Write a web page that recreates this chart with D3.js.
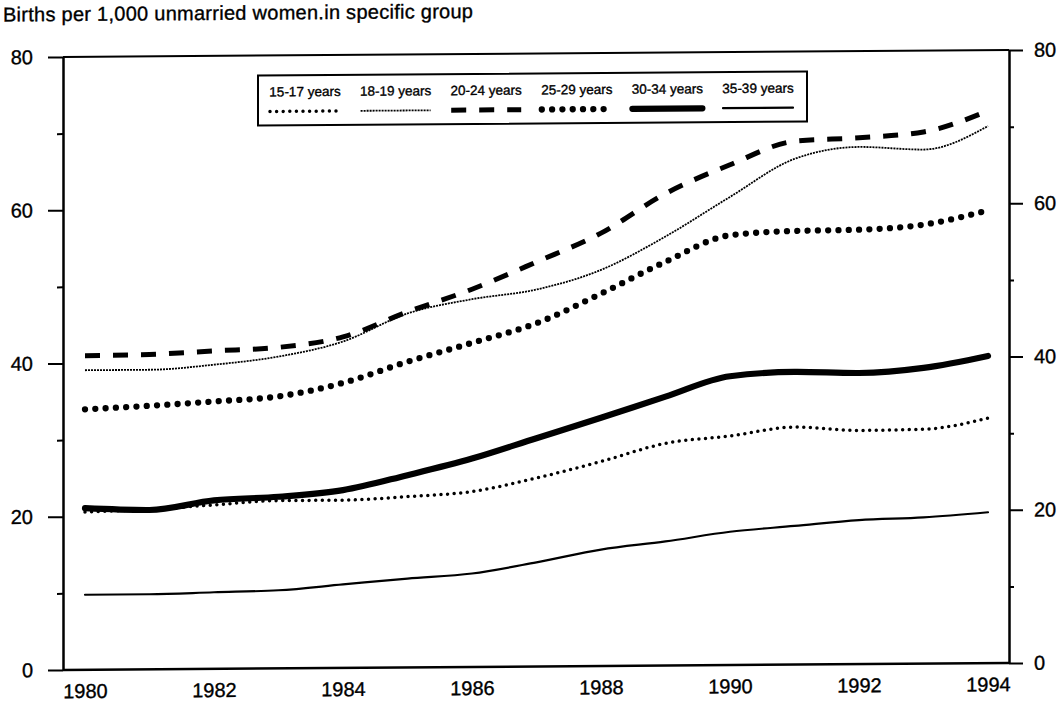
<!doctype html>
<html lang="en">
  <head>
    <meta charset="UTF-8" />
    <title>Births per 1,000 unmarried women</title>
    <script src="https://d3js.org/d3.v7.min.js"></script>
    <style>
      body {
        margin: 0;
        background: #fff;
      }
      svg text {
        font-family: "Liberation Sans", Arial, sans-serif;
        fill: #000;
        stroke: #000;
        stroke-width: 0.35px;
      }
      .axis path,
      .axis line {
        stroke: #000;
        stroke-width: 2px;
      }
    </style>
  </head>
  <body>
    <svg width="1059" height="704"></svg>

    <script>
      const years = [
        1980, 1981, 1982, 1983, 1984, 1985, 1986, 1987, 1988, 1989, 1990, 1991,
        1992, 1993, 1994,
      ];
      const age15to17 = [
        20.6, 20.9, 21.4, 21.9, 21.9, 22.3, 22.9, 24.6, 26.7, 29.0, 29.9, 31.0,
        30.5, 30.6, 32.0,
      ];
      const age18to19 = [
        39.1, 39.1, 39.7, 40.7, 42.6, 46.2, 48.0, 49.2, 51.7, 56.0, 61.1, 66.0,
        67.5, 67.1, 70.1,
      ];
      const age20to24 = [
        41.0, 41.1, 41.5, 41.9, 43.2, 46.4, 49.3, 52.8, 56.5, 61.6, 65.3, 68.3,
        68.7, 69.4, 72.1,
      ];
      const age25to29 = [
        34.0, 34.4, 34.9, 35.5, 37.2, 39.9, 42.3, 44.8, 48.6, 52.7, 56.1, 56.6,
        56.7, 57.3, 59.1,
      ];
      const age30to34 = [
        21.1, 20.8, 22.0, 22.4, 23.2, 25.1, 27.2, 29.8, 32.4, 35.1, 37.7, 38.2,
        38.0, 38.6, 40.1,
      ];
      const age35to39 = [
        9.8, 9.8, 10.0, 10.2, 10.9, 11.6, 12.2, 13.6, 15.2, 16.2, 17.4, 18.1,
        18.8, 19.1, 19.7,
      ];
      const seriesNames = [
        "15-17 years",
        "18-19 years",
        "20-24 years",
        "25-29 years",
        "30-34 years",
        "35-39 years",
      ];
      const xTickYears = [1980, 1982, 1984, 1986, 1988, 1990, 1992, 1994];
      const yMajorTicks = [0, 20, 40, 60, 80];
      const yMinorTicks = [10, 30, 50, 70];
      const title = "Births per 1,000 unmarried women.in specific group";

      // line look for each age group, same order as seriesNames
      const styles = [
        { width: 3.5, dash: "0,6.6", cap: "round" },
        { width: 1.8, dash: "2,1", cap: "butt" },
        { width: 5, dash: "15,13", cap: "butt" },
        { width: 6.3, dash: "0,10.3", cap: "round" },
        { width: 6.2, dash: null, cap: "round" },
        { width: 2.2, dash: null, cap: "round" },
      ];

      const series = [
        age15to17,
        age18to19,
        age20to24,
        age25to29,
        age30to34,
        age35to39,
      ].map((vals, i) => ({
        name: seriesNames[i],
        style: styles[i],
        values: vals.map((v, j) => ({ year: years[j], value: v })),
      }));

      const frame = { left: 63, right: 1009, top: 57, bottom: 670 };

      const svg = d3.select("svg");
      // the scanned original is slightly skewed
      const g = svg
        .append("g")
        .attr("transform", "translate(0,0.46) skewY(-0.42)");

      const x = d3.scaleLinear().domain([1980, 1994]).range([85, 988]);
      const y = d3
        .scaleLinear()
        .domain([0, 80])
        .range([frame.bottom, frame.top]);

      // title
      g.append("text")
        .attr("x", 3)
        .attr("y", 21)
        .style("font-size", "20px")
        .attr("textLength", 470)
        .attr("lengthAdjust", "spacing")
        .text(title);

      // frame: top and bottom lines
      g.append("line")
        .attr("x1", frame.left)
        .attr("x2", frame.right)
        .attr("y1", y(80))
        .attr("y2", y(80))
        .attr("stroke", "#000")
        .attr("stroke-width", 2);
      g.append("line")
        .attr("x1", frame.left)
        .attr("x2", frame.right)
        .attr("y1", y(0))
        .attr("y2", y(0))
        .attr("stroke", "#000")
        .attr("stroke-width", 2.5);

      // left axis
      const leftMajor = g
        .append("g")
        .attr("class", "axis")
        .attr("transform", `translate(${frame.left},0)`)
        .call(
          d3
            .axisLeft(y)
            .tickValues(yMajorTicks)
            .tickSize(15)
            .tickSizeOuter(0)
            .tickPadding(15)
            .tickFormat(d3.format("d")),
        );
      g.append("g")
        .attr("class", "axis")
        .attr("transform", `translate(${frame.left},0)`)
        .call(
          d3
            .axisLeft(y)
            .tickValues(yMinorTicks)
            .tickSize(6)
            .tickSizeOuter(0)
            .tickFormat(""),
        );

      // right axis
      const rightMajor = g
        .append("g")
        .attr("class", "axis")
        .attr("transform", `translate(${frame.right},0)`)
        .call(
          d3
            .axisRight(y)
            .tickValues(yMajorTicks)
            .tickSize(14)
            .tickSizeOuter(0)
            .tickPadding(11)
            .tickFormat(d3.format("d")),
        );
      g.append("g")
        .attr("class", "axis")
        .attr("transform", `translate(${frame.right},0)`)
        .call(
          d3
            .axisRight(y)
            .tickValues(yMinorTicks)
            .tickSize(5)
            .tickSizeOuter(0)
            .tickFormat(""),
        );

      [leftMajor, rightMajor].forEach((a) =>
        a
          .selectAll("text")
          .style("font-size", "20px")
          .style("font-family", "'Liberation Sans', Arial, sans-serif"),
      );

      // bottom axis: labels only
      const bottom = g
        .append("g")
        .attr("transform", `translate(0,${frame.bottom})`)
        .call(
          d3
            .axisBottom(x)
            .tickValues(xTickYears)
            .tickSize(0)
            .tickPadding(14)
            .tickFormat(d3.format("d")),
        );
      bottom.select(".domain").remove();
      bottom
        .selectAll("text")
        .style("font-size", "20px")
        .style("font-family", "'Liberation Sans', Arial, sans-serif");

      // lines
      const line = d3
        .line()
        .x((d) => x(d.year))
        .y((d) => y(d.value))
        .curve(d3.curveMonotoneX);

      g.selectAll(".series")
        .data(series)
        .enter()
        .append("path")
        .attr("class", "series")
        .attr("d", (d) => line(d.values))
        .attr("fill", "none")
        .attr("stroke", "#000")
        .attr("stroke-width", (d) => d.style.width)
        .attr("stroke-linecap", (d) => d.style.cap)
        .attr("stroke-linejoin", "round")
        .attr("stroke-dasharray", (d) => d.style.dash);

      // legend
      const legend = g.append("g");
      legend
        .append("rect")
        .attr("x", 258)
        .attr("y", 77)
        .attr("width", 549)
        .attr("height", 50)
        .attr("fill", "#fff")
        .attr("stroke", "#000")
        .attr("stroke-width", 2);

      const lx = d3
        .scalePoint()
        .domain(seriesNames)
        .range([305, 758]);

      const item = legend
        .selectAll(".legend-item")
        .data(series)
        .enter()
        .append("g")
        .attr("class", "legend-item")
        .attr("transform", (d) => `translate(${lx(d.name)},0)`);

      item
        .append("text")
        .attr("y", 98)
        .attr("text-anchor", "middle")
        .style("font-size", "13.5px")
        .text((d) => d.name);

      item
        .append("line")
        .attr("x1", -35)
        .attr("x2", 35)
        .attr("y1", 113)
        .attr("y2", 113)
        .attr("stroke", "#000")
        .attr("stroke-width", (d) => d.style.width)
        .attr("stroke-linecap", (d) => d.style.cap)
        .attr("stroke-dasharray", (d) => d.style.dash);
    </script>
  </body>
</html>
